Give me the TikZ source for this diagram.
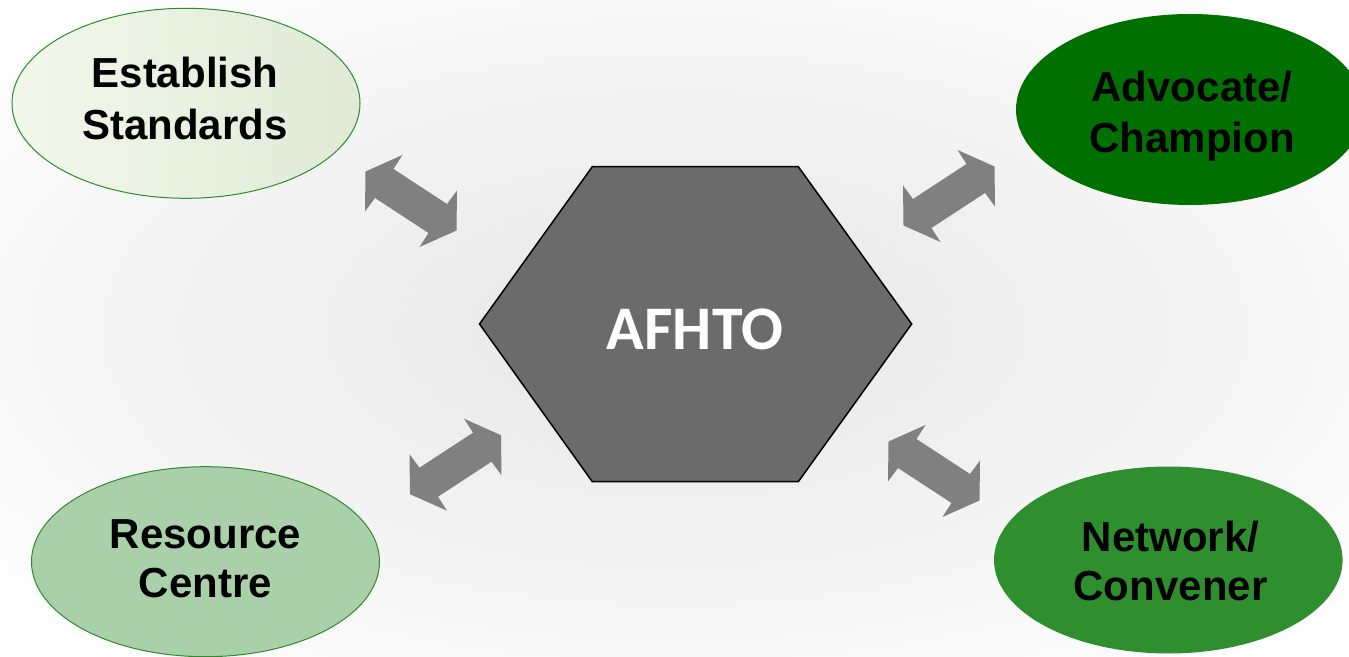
\documentclass[tikz,border=0pt]{standalone}
\usepackage{fontspec}
\setmainfont{Liberation Sans}
\newfontfamily\carlito{Carlito}
\usetikzlibrary{shapes.geometric}

\definecolor{bggray}{HTML}{E6E6E6}
\definecolor{paleleft}{HTML}{F2F8EC}
\definecolor{paleright}{HTML}{E0EAD6}
\definecolor{deepgreen}{HTML}{007000}
\definecolor{sagegreen}{HTML}{A9D0A9}
\definecolor{midgreen}{HTML}{2F8F2F}
\definecolor{rimgreen}{HTML}{2E8B2E}
\definecolor{hexgray}{HTML}{6B6B6B}
\definecolor{arrowgray}{HTML}{808080}

% double block arrow, centre (#1,#2), mirrored with #3=-1
\newcommand{\twoway}[3]{%
  \fill[linkarrow, shift={(#1,#2)}, xscale=#3]
    (-8.5,-46) -- (-45.5,-29.5) -- (-46,10.5) -- (-36,-3) -- (17.5,32)
    -- (8.5,46) -- (45.5,29.5) -- (46,-10.5) -- (36,3) -- (-17.5,-32) -- cycle;}

\begin{document}
\begin{tikzpicture}[x=0.5pt, y=-0.5pt,
    role/.style={ellipse, inner sep=0pt, minimum width=174pt, minimum height=95pt},
    roletext/.style={anchor=north, inner sep=0pt, align=center,
      font=\fontsize{21}{#1}\selectfont\bfseries},
    linkarrow/.style={fill=arrowgray},
    hexa/.style={fill=hexgray, draw=black, line width=0.75pt, line join=miter}]
    \useasboundingbox (0,0) rectangle (1349,657);
    \shade[inner color=bggray, outer color=white] (-250,-120) rectangle (1599,777);

    % the four roles
    \node[role, left color=paleleft, right color=paleright, draw=rimgreen, line width=0.5pt] (std) at (186,103.3) {};
    \node[role, fill=deepgreen, minimum height=95.5pt] (adv) at (1190,109.5) {};
    \node[role, fill=sagegreen, draw=rimgreen, line width=0.5pt] (res) at (205.5,561.7) {};
    \node[role, fill=midgreen, minimum width=174.3pt, minimum height=93.5pt] (net) at (1168.3,560) {};

    % arrows
    \twoway{411}{201}{1}
    \twoway{949}{196}{-1}
    \twoway{455.5}{464.7}{-1}
    \twoway{934}{471}{1}

    % centre
    \draw[hexa] (479.5,324) -- (592.3,166.7) -- (798.3,166.7) -- (911.7,324)
      -- (798.3,481.7) -- (592.3,481.7) -- cycle;
    \node[anchor=base, inner sep=0pt, text=white,
      font=\fontsize{31}{36}\selectfont\carlito\bfseries] (afhto) at (695,350) {AFHTO};

    \node[roletext=25.8] (stdtext) at (185,56.7) {Establish\\Standards};
    \node[roletext=25.2] (advtext) at (1192,71) {Advocate/\\Champion};
    \node[roletext=24.65] (restext) at (205.5,519) {Resource\\Centre};
    \node[roletext=24.65] (nettext) at (1170.5,520.7) {Network/\\Convener};
\end{tikzpicture}
\end{document}
